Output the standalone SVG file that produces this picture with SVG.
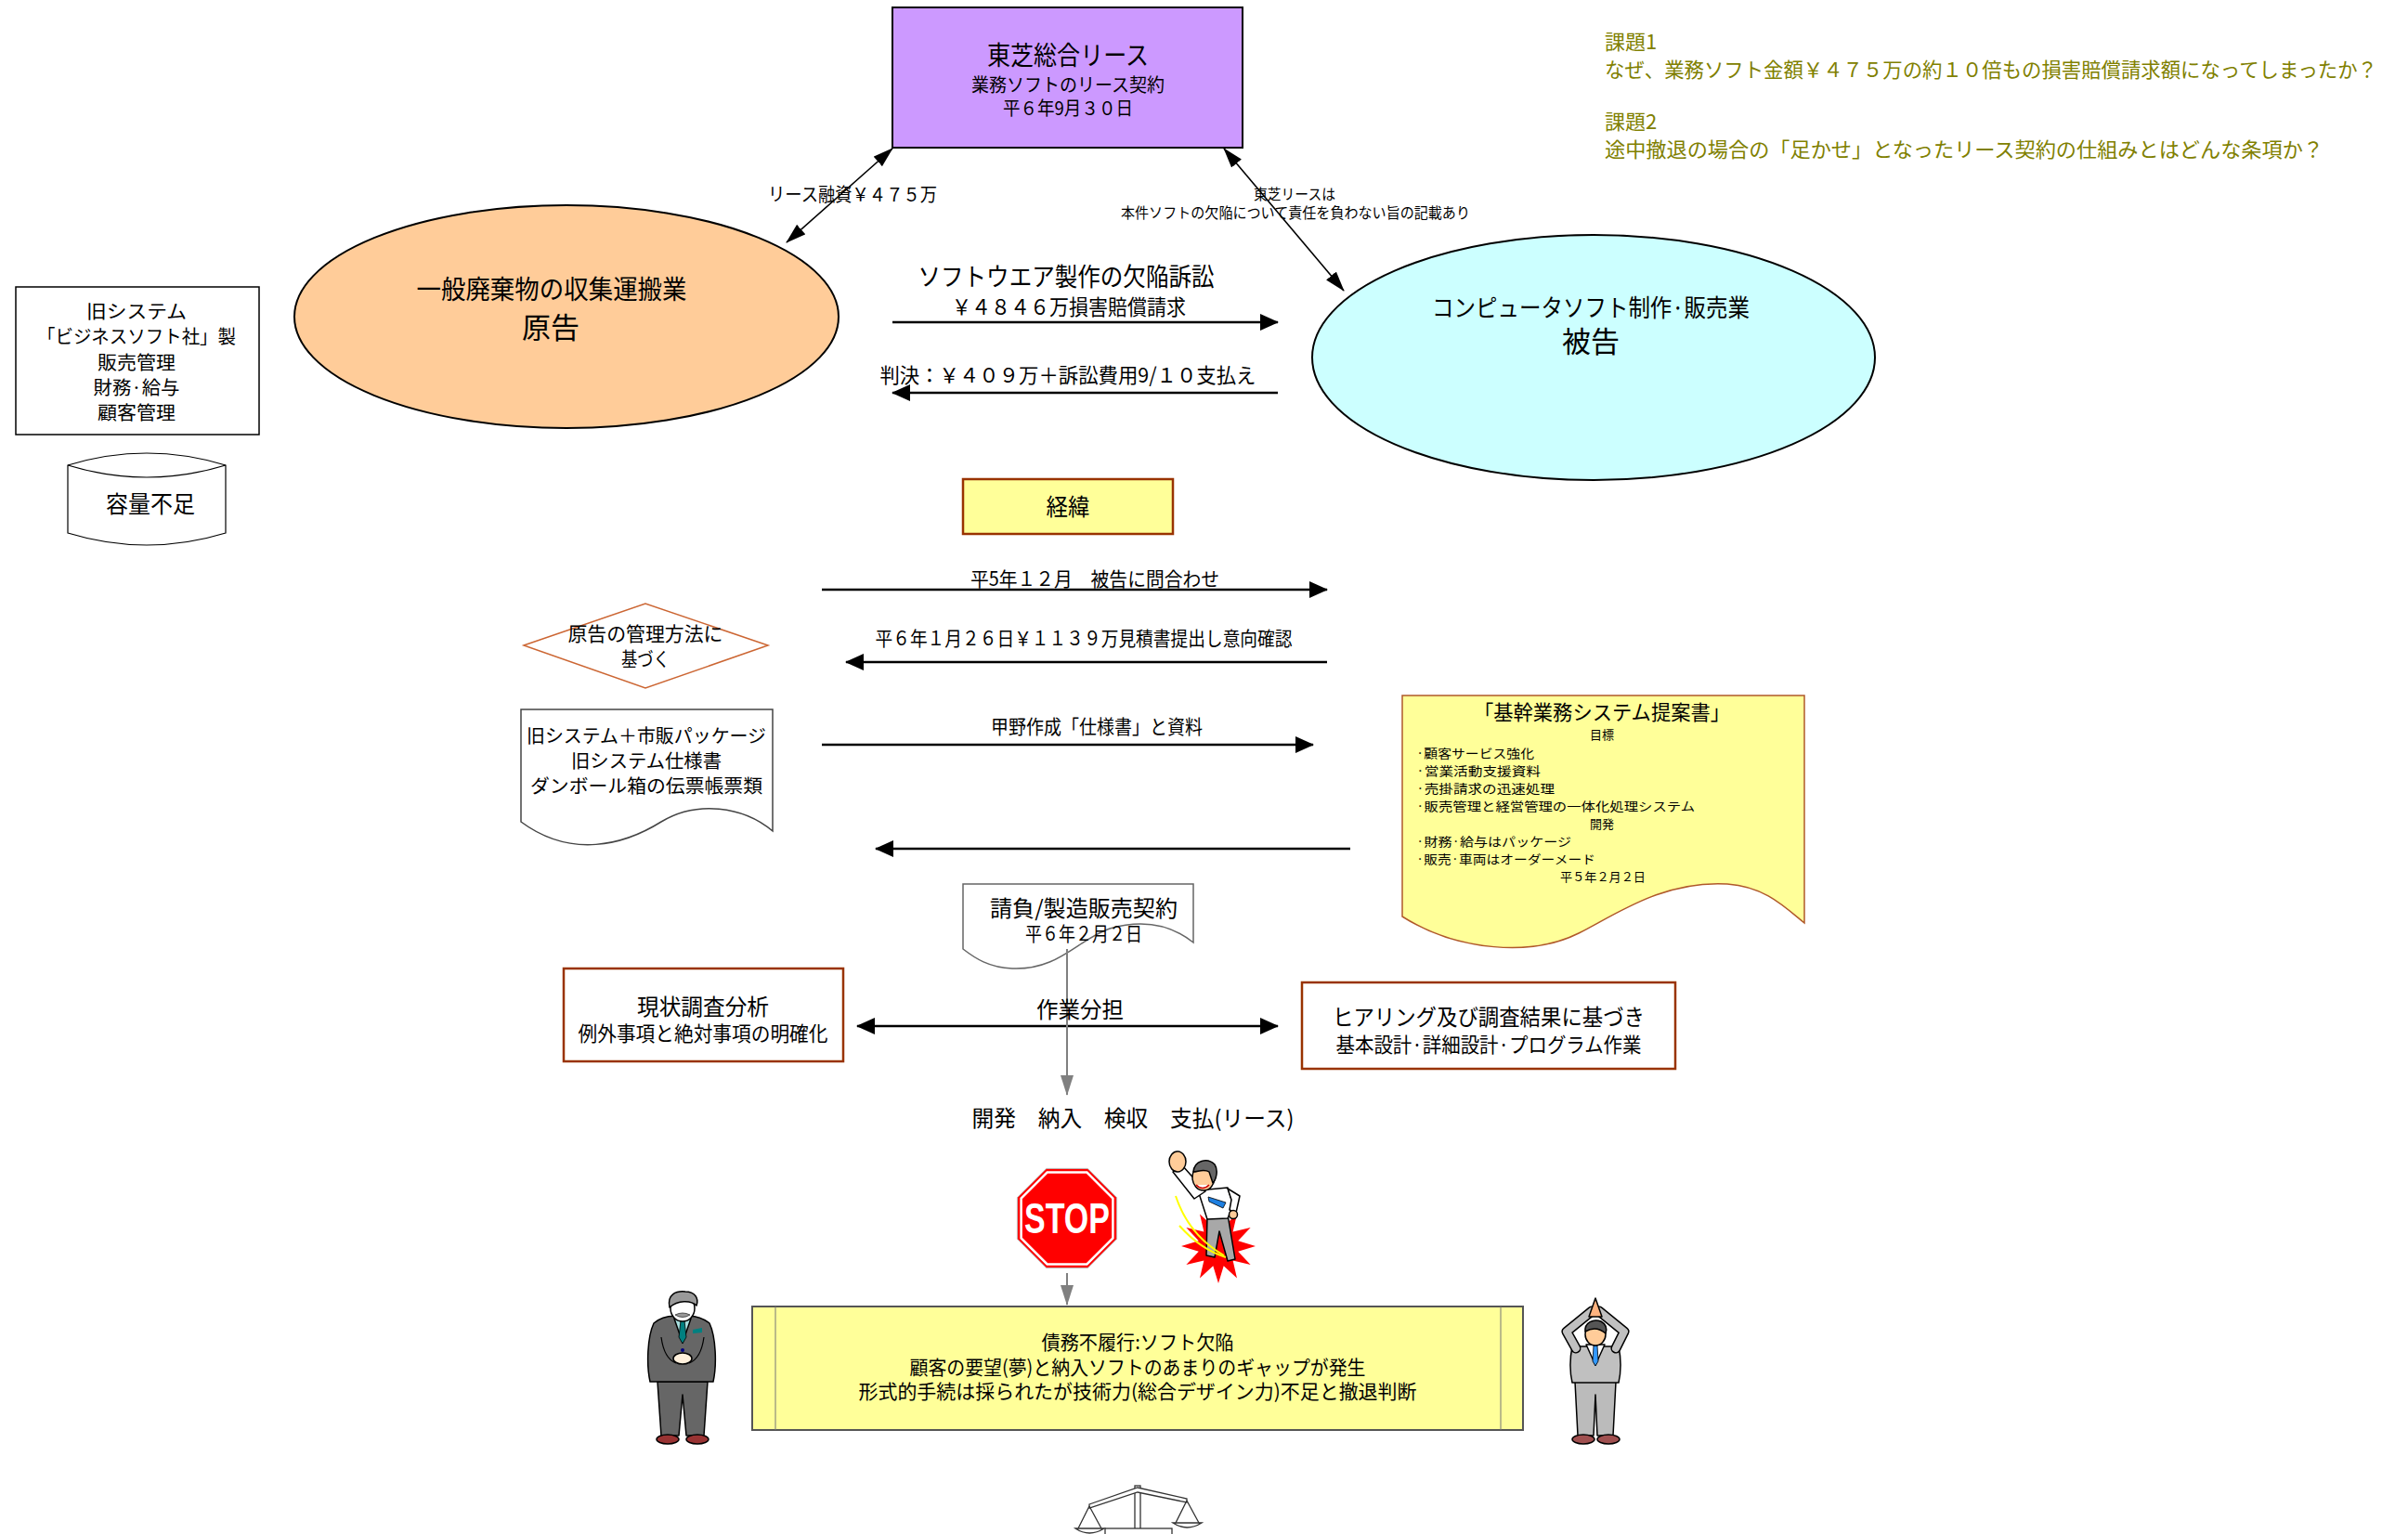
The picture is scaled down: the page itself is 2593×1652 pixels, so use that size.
<svg xmlns="http://www.w3.org/2000/svg" width="2593" height="1652" viewBox="0 0 2593 1652">
  <style>
    .t { font-family: "Noto Sans CJK JP", "Noto Sans", sans-serif; fill: #000; text-anchor: middle; dominant-baseline: central; }
    .s { text-anchor: start; }
    .q { fill: #808000; text-anchor: start; font-size: 22px; }
    .arrow { stroke: #000; stroke-width: 2.5; fill: none; }
    .thin { stroke: #000; stroke-width: 1.6; fill: none; }
    .gray { stroke: #808080; stroke-width: 2; fill: none; }
    .brown { stroke: #993300; stroke-width: 2.5; }
    .ol { stroke: #000; stroke-width: 1.5; stroke-linejoin: round; }
  </style>
  <defs>
    <marker id="ah" viewBox="0 0 20 18" refX="19" refY="9" markerWidth="20" markerHeight="18" markerUnits="userSpaceOnUse" orient="auto-start-reverse">
      <path d="M0,0 L20,9 L0,18 z" fill="#000"/>
    </marker>
    <marker id="ahs" viewBox="0 0 22 14" refX="21" refY="7" markerWidth="22" markerHeight="14" markerUnits="userSpaceOnUse" orient="auto-start-reverse">
      <path d="M0,0 L22,7 L0,14 z" fill="#000"/>
    </marker>
    <marker id="ahg" viewBox="0 0 22 14" refX="21" refY="7" markerWidth="22" markerHeight="14" markerUnits="userSpaceOnUse" orient="auto">
      <path d="M0,0 L22,7 L0,14 z" fill="#808080"/>
    </marker>
  </defs>

  <rect width="2593" height="1652" fill="#fff"/>

  <!-- questions -->
  <g id="questions">
    <text class="t q" x="1728" y="43" font-size="23">課題1</text>
    <text class="t q" x="1728" y="73" textLength="832" lengthAdjust="spacingAndGlyphs">なぜ、業務ソフト金額￥４７５万の約１０倍もの損害賠償請求額になってしまったか？</text>
    <text class="t q" x="1728" y="129" font-size="23">課題2</text>
    <text class="t q" x="1728" y="159" textLength="774" lengthAdjust="spacingAndGlyphs">途中撤退の場合の「足かせ」となったリース契約の仕組みとはどんな条項か？</text>
  </g>

  <!-- nodes -->
  <g id="lease-company">
    <rect x="961" y="8" width="377" height="151" fill="#CC99FF" stroke="#000" stroke-width="2"/>
    <text class="t" x="1150" y="58" font-size="28" textLength="174" lengthAdjust="spacingAndGlyphs">東芝総合リース</text>
    <text class="t" x="1150" y="90" font-size="20" textLength="208" lengthAdjust="spacingAndGlyphs">業務ソフトのリース契約</text>
    <text class="t" x="1150" y="115" font-size="20" textLength="140" lengthAdjust="spacingAndGlyphs">平６年9月３０日</text>
  </g>

  <g id="plaintiff">
    <ellipse cx="610" cy="341" rx="293" ry="120" fill="#FFCC99" stroke="#000" stroke-width="2"/>
    <text class="t" x="594" y="310" font-size="28" textLength="291" lengthAdjust="spacingAndGlyphs">一般廃棄物の収集運搬業</text>
    <text class="t" x="593" y="350" font-size="31">原告</text>
  </g>

  <g id="defendant">
    <ellipse cx="1716" cy="385" rx="303" ry="132" fill="#CCFFFF" stroke="#000" stroke-width="2"/>
    <text class="t" x="1713" y="329" font-size="26" textLength="342" lengthAdjust="spacingAndGlyphs">コンピュータソフト制作·販売業</text>
    <text class="t" x="1713" y="365" font-size="31">被告</text>
  </g>

  <g id="old-system">
    <rect x="17" y="309" width="262" height="159" fill="#fff" stroke="#000" stroke-width="1.5"/>
    <text class="t" x="147" y="334" font-size="20" textLength="108" lengthAdjust="spacingAndGlyphs">旧システム</text>
    <text class="t" x="147" y="361" font-size="20" textLength="214" lengthAdjust="spacingAndGlyphs">「ビジネスソフト社」製</text>
    <text class="t" x="147" y="389" font-size="20" textLength="84" lengthAdjust="spacingAndGlyphs">販売管理</text>
    <text class="t" x="147" y="416" font-size="20" textLength="93" lengthAdjust="spacingAndGlyphs">財務·給与</text>
    <text class="t" x="147" y="443" font-size="20" textLength="84" lengthAdjust="spacingAndGlyphs">顧客管理</text>
  </g>

  <g id="capacity">
    <path d="M73,501 Q158,475 243,501 V574 Q158,600 73,574 Z" fill="#fff" stroke="#000" stroke-width="1.2"/>
    <path d="M73,501 Q158,527 243,501" fill="none" stroke="#000" stroke-width="1.2"/>
    <text class="t" x="162" y="541" font-size="25" textLength="96" lengthAdjust="spacingAndGlyphs">容量不足</text>
  </g>

  <g id="history">
    <rect x="1037" y="516" width="226" height="59" fill="#FFFF99" class="brown"/>
    <text class="t" x="1150" y="544" font-size="25" textLength="47" lengthAdjust="spacingAndGlyphs">経緯</text>
  </g>

  <g id="management">
    <polygon points="564,695 695,650 827,695 695,741" fill="#fff" stroke="#CC6633" stroke-width="1.5"/>
    <text class="t" x="695" y="681" font-size="21" textLength="167" lengthAdjust="spacingAndGlyphs">原告の管理方法に</text>
    <text class="t" x="695" y="708" font-size="21" textLength="52" lengthAdjust="spacingAndGlyphs">基づく</text>
  </g>

  <g id="materials">
    <path d="M561,764 H832 V895 C800,868 750,862 712,885 C672,910 615,925 561,885 Z" fill="#fff" stroke="#444" stroke-width="1.5"/>
    <text class="t" x="696" y="791" font-size="20" textLength="258" lengthAdjust="spacingAndGlyphs">旧システム＋市販パッケージ</text>
    <text class="t" x="696" y="818" font-size="20" textLength="162" lengthAdjust="spacingAndGlyphs">旧システム仕様書</text>
    <text class="t" x="696" y="845" font-size="20" textLength="250" lengthAdjust="spacingAndGlyphs">ダンボール箱の伝票帳票類</text>
  </g>

  <g id="proposal">
    <path d="M1510,749 H1943 V994 C1920,975 1900,955 1860,952 C1790,948 1740,985 1700,1005 C1650,1030 1570,1025 1510,987 Z" fill="#FFFF99" stroke="#B0592A" stroke-width="1.5"/>
    <text class="t" x="1725" y="765" font-size="22" textLength="276" lengthAdjust="spacingAndGlyphs">「基幹業務システム提案書」</text>
    <text class="t" x="1725" y="790" font-size="13">目標</text>
    <text class="t s" x="1525" y="810" font-size="13" textLength="127" lengthAdjust="spacingAndGlyphs">·顧客サービス強化</text>
    <text class="t s" x="1525" y="829" font-size="13" textLength="134" lengthAdjust="spacingAndGlyphs">·営業活動支援資料</text>
    <text class="t s" x="1525" y="848" font-size="13" textLength="149" lengthAdjust="spacingAndGlyphs">·売掛請求の迅速処理</text>
    <text class="t s" x="1525" y="867" font-size="13" textLength="300" lengthAdjust="spacingAndGlyphs">·販売管理と経営管理の一体化処理システム</text>
    <text class="t" x="1725" y="886" font-size="13">開発</text>
    <text class="t s" x="1525" y="905" font-size="13" textLength="167" lengthAdjust="spacingAndGlyphs">·財務·給与はパッケージ</text>
    <text class="t s" x="1525" y="924" font-size="13" textLength="193" lengthAdjust="spacingAndGlyphs">·販売·車両はオーダーメード</text>
    <text class="t" x="1726" y="943" font-size="13" textLength="92" lengthAdjust="spacingAndGlyphs">平５年２月２日</text>
  </g>

  <g id="contract">
    <path d="M1037,952 H1285 V1015 C1260,995 1230,990 1195,1000 C1160,1012 1140,1045 1090,1043 C1065,1042 1050,1032 1037,1022 Z" fill="#fff" stroke="#666" stroke-width="1.5"/>
    <text class="t" x="1167" y="976" font-size="24" textLength="202" lengthAdjust="spacingAndGlyphs">請負/製造販売契約</text>
    <text class="t" x="1167" y="1004" font-size="21" textLength="126" lengthAdjust="spacingAndGlyphs">平６年２月２日</text>
  </g>

  <g id="survey">
    <rect x="607" y="1043" width="301" height="100" fill="#fff" class="brown"/>
    <text class="t" x="757" y="1082" font-size="24" textLength="142" lengthAdjust="spacingAndGlyphs">現状調査分析</text>
    <text class="t" x="757" y="1111" font-size="22" textLength="269" lengthAdjust="spacingAndGlyphs">例外事項と絶対事項の明確化</text>
  </g>

  <g id="design">
    <rect x="1402" y="1058" width="402" height="93" fill="#fff" class="brown"/>
    <text class="t" x="1603" y="1093" font-size="24" textLength="336" lengthAdjust="spacingAndGlyphs">ヒアリング及び調査結果に基づき</text>
    <text class="t" x="1603" y="1123" font-size="22" textLength="329" lengthAdjust="spacingAndGlyphs">基本設計·詳細設計·プログラム作業</text>
  </g>

  <g id="steps">
    <text class="t" x="1220" y="1202" font-size="24" textLength="347" lengthAdjust="spacingAndGlyphs" xml:space="preserve">開発　納入　検収　支払(リース)</text>
  </g>

  <g id="stop-sign">
    <polygon points="1126.8,1258.4 1171.2,1258.4 1202.6,1289.8 1202.6,1334.2 1171.2,1365.6 1126.8,1365.6 1095.4,1334.2 1095.4,1289.8" fill="#FF0000" stroke="#bbb" stroke-width="1"/>
    <polygon points="1127.6,1262.6 1170.4,1262.6 1198.4,1290.6 1198.4,1333.4 1170.4,1361.4 1127.6,1361.4 1099.6,1333.4 1099.6,1290.6" fill="#FF0000" stroke="#fff" stroke-width="2.5"/>
    <text x="1149" y="1328" font-family="'Liberation Sans', Arial, sans-serif" font-weight="bold" font-size="46" fill="#fff" text-anchor="middle" textLength="92" lengthAdjust="spacingAndGlyphs">STOP</text>
  </g>

  <g id="jumping-man">
    <polygon points="1312,1302 1317.7,1320.8 1332,1307.4 1327.6,1326.4 1346.6,1322 1333.2,1336.3 1352,1342 1333.2,1347.7 1346.6,1362 1327.6,1357.6 1332,1376.6 1317.7,1363.2 1312,1382 1306.3,1363.2 1292,1376.6 1296.4,1357.6 1277.4,1362 1290.8,1347.7 1272,1342 1290.8,1336.3 1277.4,1322 1296.4,1326.4 1292,1307.4 1306.3,1320.8" fill="#FF0000"/>
    <path d="M1300,1310 L1322,1308 L1330,1356 L1322,1358 L1313,1326 L1308,1354 L1299,1352 Z" fill="#A8A8A8" class="ol"/>
    <path d="M1290,1282 L1322,1279 L1328,1298 L1322,1312 L1300,1313 Z" fill="#fff" class="ol"/>
    <path d="M1286,1291 L1263,1262 L1273,1255 L1298,1283 Z" fill="#fff" class="ol"/>
    <path d="M1322,1280 L1335,1288 L1331,1306 L1324,1303 L1326,1292 Z" fill="#fff" class="ol"/>
    <circle cx="1328" cy="1308" r="4.5" fill="#FFCC99" class="ol"/>
    <ellipse cx="1268" cy="1251" rx="9" ry="11" fill="#FFCC99" class="ol"/>
    <path d="M1301,1289 L1320,1295 L1317,1301 L1302,1294 Z" fill="#1E7FE0" stroke="#000" stroke-width="0.8"/>
    <ellipse cx="1296" cy="1268" rx="12" ry="14" fill="#FFCC99" class="ol"/>
    <path d="M1285,1262 C1286,1250 1300,1246 1308,1254 C1312,1260 1310,1270 1306,1274 L1302,1262 C1296,1258 1290,1262 1285,1262 Z" fill="#666" class="ol"/>
    <path d="M1288,1276 Q1295,1283 1302,1276" fill="#fff" stroke="#c00" stroke-width="1.5"/>
    <path d="M1266,1288 Q1280,1330 1318,1352" fill="none" stroke="#FFFF00" stroke-width="2"/>
    <path d="M1270,1320 Q1292,1345 1320,1354" fill="none" stroke="#FFFF00" stroke-width="2"/>
  </g>

  <g id="conclusion">
    <rect x="810" y="1407" width="830" height="133" fill="#FFFF99" stroke="#555" stroke-width="2"/>
    <line x1="835" y1="1407" x2="835" y2="1540" stroke="#777" stroke-width="1"/>
    <line x1="1616" y1="1407" x2="1616" y2="1540" stroke="#777" stroke-width="1"/>
    <text class="t" x="1225" y="1444" font-size="21" textLength="207" lengthAdjust="spacingAndGlyphs">債務不履行:ソフト欠陥</text>
    <text class="t" x="1225" y="1470.5" font-size="21" textLength="491" lengthAdjust="spacingAndGlyphs">顧客の要望(夢)と納入ソフトのあまりのギャップが発生</text>
    <text class="t" x="1225" y="1497" font-size="21" textLength="601" lengthAdjust="spacingAndGlyphs">形式的手続は採られたが技術力(総合デザイン力)不足と撤退判断</text>
  </g>

  <g id="bowing-man">
    <path d="M708,1488 L762,1488 L758,1546 L739,1546 L735,1502 L731,1546 L712,1546 Z" fill="#666" class="ol"/>
    <ellipse cx="719" cy="1550" rx="12" ry="5" fill="#993333" class="ol"/>
    <ellipse cx="751" cy="1550" rx="12" ry="5" fill="#993333" class="ol"/>
    <path d="M704,1425 C697,1440 696,1470 700,1488 L768,1488 C772,1470 771,1440 764,1425 C755,1418 745,1416 735,1418 C723,1416 712,1418 704,1425 Z" fill="#666" class="ol"/>
    <path d="M726,1420 L735,1446 L744,1420 Z" fill="#A8E0E0" class="ol"/>
    <path d="M733,1422 L737,1422 L739,1440 L735,1447 L731,1440 Z" fill="#008080" stroke="#000" stroke-width="0.8"/>
    <path d="M746,1432 L756,1430 L756,1435 L746,1436 Z" fill="#008080"/>
    <circle cx="735" cy="1454" r="2" fill="#000080"/>
    <path d="M712,1440 C714,1455 720,1465 728,1468" fill="none" stroke="#000" stroke-width="1.2"/>
    <path d="M758,1440 C756,1455 750,1465 742,1468" fill="none" stroke="#000" stroke-width="1.2"/>
    <ellipse cx="735" cy="1463" rx="10" ry="6" fill="#FFF0DC" class="ol"/>
    <ellipse cx="735" cy="1409" rx="13" ry="14" fill="#fff" class="ol"/>
    <path d="M721,1408 C718,1394 728,1390 738,1391 C748,1391 753,1398 750,1406 C744,1400 730,1400 721,1408 Z" fill="#999" class="ol"/>
    <path d="M727,1416 Q735,1412 743,1416 Q735,1421 727,1416 Z" fill="#999" stroke="#333" stroke-width="0.8"/>
  </g>

  <g id="praying-man">
    <path d="M1696,1488 L1740,1488 L1737,1546 L1720,1546 L1718,1502 L1716,1546 L1699,1546 Z" fill="#BBB" class="ol"/>
    <ellipse cx="1705" cy="1550" rx="12" ry="5" fill="#A05050" class="ol"/>
    <ellipse cx="1732" cy="1550" rx="12" ry="5" fill="#A05050" class="ol"/>
    <path d="M1693,1450 C1690,1465 1691,1480 1693,1489 L1743,1489 C1745,1480 1746,1465 1743,1450 Z" fill="#C0C0C0" class="ol"/>
    <path d="M1708,1448 L1718,1470 L1728,1448 Z" fill="#fff" class="ol"/>
    <path d="M1716,1449 L1720,1449 L1721,1466 L1718,1471 L1715,1466 Z" fill="#3399FF" stroke="#000" stroke-width="0.8"/>
    <polyline points="1697,1452 1687,1434 1714,1412" fill="none" stroke="#000" stroke-width="11" stroke-linejoin="round" stroke-linecap="round"/>
    <polyline points="1740,1452 1749,1434 1722,1412" fill="none" stroke="#000" stroke-width="11" stroke-linejoin="round" stroke-linecap="round"/>
    <polyline points="1697,1452 1687,1434 1714,1412" fill="none" stroke="#C0C0C0" stroke-width="8" stroke-linejoin="round" stroke-linecap="round"/>
    <polyline points="1740,1452 1749,1434 1722,1412" fill="none" stroke="#C0C0C0" stroke-width="8" stroke-linejoin="round" stroke-linecap="round"/>
    <path d="M1711,1418 L1718,1398 L1725,1418 Z" fill="#FFB380" class="ol"/>
    <ellipse cx="1718" cy="1437" rx="11" ry="12" fill="#FFCC99" class="ol"/>
    <path d="M1707,1434 C1706,1424 1716,1420 1724,1423 C1731,1427 1730,1433 1729,1436 C1722,1430 1714,1430 1707,1434 Z" fill="#555" class="ol"/>
  </g>

  <g id="scales" fill="none" stroke="#333" stroke-width="1.3">
    <rect x="1222" y="1600" width="6" height="52" fill="#fff"/>
    <path d="M1173,1620 L1225,1602 L1278,1614 L1278,1618 L1225,1607 L1173,1624 Z" fill="#fff"/>
    <path d="M1173,1622 L1161,1646 M1173,1622 L1186,1646"/>
    <path d="M1158,1646 Q1173,1656 1189,1646 Z" fill="#fff"/>
    <path d="M1278,1616 L1266,1640 M1278,1616 L1291,1640"/>
    <path d="M1263,1640 Q1278,1650 1294,1640 Z" fill="#fff"/>
    <rect x="1190" y="1646" width="72" height="8" fill="#fff"/>
  </g>

  <!-- connectors -->
  <g id="connectors">
    <line x1="847" y1="261" x2="961" y2="160" class="thin" marker-start="url(#ahs)" marker-end="url(#ahs)"/>
    <line x1="1318" y1="160" x2="1447" y2="313" class="thin" marker-start="url(#ahs)" marker-end="url(#ahs)"/>
    <line x1="961" y1="347" x2="1376" y2="347" class="arrow" marker-end="url(#ah)"/>
    <line x1="1376" y1="423" x2="961" y2="423" class="arrow" marker-end="url(#ah)"/>
    <line x1="885" y1="635" x2="1429" y2="635" class="arrow" marker-end="url(#ah)"/>
    <line x1="1429" y1="713" x2="911" y2="713" class="arrow" marker-end="url(#ah)"/>
    <line x1="885" y1="802" x2="1414" y2="802" class="arrow" marker-end="url(#ah)"/>
    <line x1="1454" y1="914" x2="943" y2="914" class="arrow" marker-end="url(#ah)"/>
    <line x1="923" y1="1105" x2="1376" y2="1105" class="arrow" stroke-width="3" marker-start="url(#ah)" marker-end="url(#ah)"/>
    <line x1="1149" y1="1022" x2="1149" y2="1179" class="gray" marker-end="url(#ahg)"/>
    <line x1="1149" y1="1371" x2="1149" y2="1405" class="gray" marker-end="url(#ahg)"/>
  </g>

  <!-- connector labels -->
  <g id="connector-labels">
    <text class="t" x="918" y="208" font-size="20" textLength="182" lengthAdjust="spacingAndGlyphs">リース融資￥４７５万</text>
    <text class="t" x="1394" y="208" font-size="15.5" textLength="88" lengthAdjust="spacingAndGlyphs">東芝リースは</text>
    <text class="t" x="1395" y="228" font-size="15.5" textLength="376" lengthAdjust="spacingAndGlyphs">本件ソフトの欠陥について責任を負わない旨の記載あり</text>
    <text class="t" x="1148" y="296" font-size="27" textLength="319" lengthAdjust="spacingAndGlyphs">ソフトウエア製作の欠陥訴訟</text>
    <text class="t" x="1151" y="329" font-size="23" textLength="252" lengthAdjust="spacingAndGlyphs">￥４８４６万損害賠償請求</text>
    <text class="t" x="1150" y="402" font-size="22" textLength="405" lengthAdjust="spacingAndGlyphs">判決：￥４０９万＋訴訟費用9/１０支払え</text>
    <text class="t" x="1179" y="622" font-size="21" textLength="268" lengthAdjust="spacingAndGlyphs" xml:space="preserve">平5年１２月　被告に問合わせ</text>
    <text class="t" x="1167" y="686" font-size="21" textLength="449" lengthAdjust="spacingAndGlyphs">平６年１月２６日￥１１３９万見積書提出し意向確認</text>
    <text class="t" x="1181" y="781" font-size="21" textLength="228" lengthAdjust="spacingAndGlyphs">甲野作成「仕様書」と資料</text>
    <text class="t" x="1163" y="1085" font-size="24" textLength="94" lengthAdjust="spacingAndGlyphs">作業分担</text>
  </g>
</svg>
